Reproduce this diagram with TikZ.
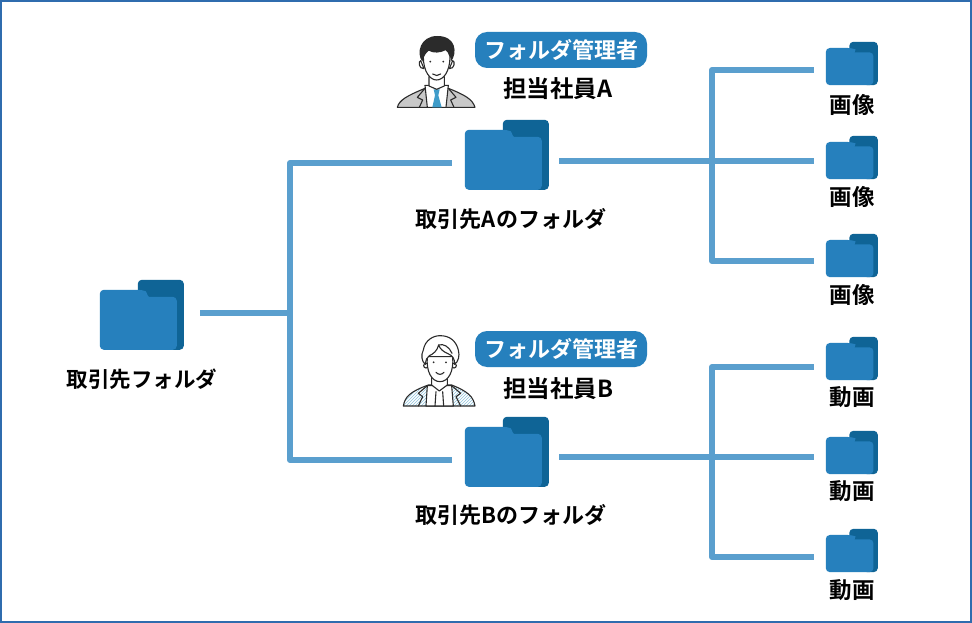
\documentclass[tikz,border=0pt]{standalone}
\usepackage{fontspec}
\setmainfont{Noto Sans CJK JP}[BoldFont={Noto Sans CJK JP Bold}]
\usetikzlibrary{patterns}
\definecolor{linkblue}{HTML}{5A9FCE}
\definecolor{folderblue}{HTML}{2680BD}
\definecolor{folderdark}{HTML}{0F6496}
\definecolor{frameblue}{HTML}{2F6CAE}
\definecolor{inkdark}{HTML}{2B2B2B}
\definecolor{suitgrey}{HTML}{C9C9C9}
\definecolor{tieblue}{HTML}{3F9CC9}
\definecolor{hatchblue}{HTML}{8FC3DC}
\tikzset{
    link/.style={draw=linkblue,line width=6pt,line join=round},
    folderbig/.style={minimum width=84pt,minimum height=70pt,inner sep=0pt},
    foldersmall/.style={minimum width=52pt,minimum height=44pt,inner sep=0pt},
    label/.style={font=\bfseries\fontsize{22}{26}\selectfont,inner sep=0pt,text=black},
    sublabel/.style={font=\bfseries\fontsize{22.5}{26}\selectfont,inner sep=0pt,text=black},
    badge/.style={fill=folderblue,rounded corners=12pt,text=white,minimum width=172pt,minimum height=36pt,inner sep=0pt,font=\bfseries\fontsize{22}{26}\selectfont},
    person/.style={draw=inkdark,line width=1.1pt,line join=round,line cap=round},
    folder/.pic={
        \fill [folderdark,rounded corners=4pt] (38,0) -- (84,0) -- (84,70) -- (60,70) -- (38,30) -- cycle;
        \fill [folderblue,rounded corners=4pt] (0,10) -- (42,10)
            to [out=-20,in=180] (53,17)
            -- (77,17) -- (77,70) -- (0,70) -- cycle;
    }
}
\begin{document}
\begin{tikzpicture}[x=1pt,y=-1pt]
                \useasboundingbox (0,0) rectangle (972,623);
                \fill [white] (0,0) rectangle (972,623);
                \draw [frameblue,line width=2pt] (1,1) rectangle (971,622);

                \node [folderbig] (rootfolder) at (142,315) {};
                \node [folderbig] (folderA) at (507,155) {};
                \node [folderbig] (folderB) at (507,452) {};
                \node [foldersmall] (imageone) at (852,64) {};
                \node [foldersmall] (imagetwo) at (852,158) {};
                \node [foldersmall] (imagethree) at (852,256) {};
                \node [foldersmall] (movieone) at (852,359) {};
                \node [foldersmall] (movietwo) at (852,453) {};
                \node [foldersmall] (moviethree) at (852,551) {};

                \pic at (rootfolder.north west) {folder};
                \pic at (folderA.north west) {folder};
                \pic at (folderB.north west) {folder};
                \foreach \name in {imageone,imagetwo,imagethree,movieone,movietwo,moviethree}
                    \pic [scale=0.619] at (\name.north west) {folder};

                \coordinate (rootjoin) at (290,313);
                \coordinate (jointop) at (290,163);
                \coordinate (joinbottom) at (290,460);
                \coordinate (joinA) at (712,161);
                \coordinate (joinAtop) at (712,70);
                \coordinate (joinAbottom) at (712,261);
                \coordinate (joinB) at (712,457);
                \coordinate (joinBtop) at (712,367);
                \coordinate (joinBbottom) at (712,557);

                \draw [link] ([xshift=16pt,yshift=2pt]rootfolder.east) -- (rootjoin);
                \draw [link] ([xshift=-13pt,yshift=-8pt]folderA.west) -- (jointop) -- (joinbottom) -- ([xshift=-13pt,yshift=-8pt]folderB.west);
                \draw [link] ([xshift=10pt,yshift=-6pt]folderA.east) -- (joinA);
                \draw [link] ([xshift=10pt,yshift=-5pt]folderB.east) -- (joinB);
                \draw [link] ([xshift=-12pt,yshift=-6pt]imageone.west) -- (joinAtop) -- (joinAbottom) -- ([xshift=-12pt,yshift=-5pt]imagethree.west);
                \draw [link] (joinA) -- ([xshift=-12pt,yshift=-3pt]imagetwo.west);
                \draw [link] ([xshift=-12pt,yshift=-8pt]movieone.west) -- (joinBtop) -- (joinBbottom) -- ([xshift=-12pt,yshift=-6pt]moviethree.west);
                \draw [link] (joinB) -- ([xshift=-12pt,yshift=-4pt]movietwo.west);

                \node [label,font=\bfseries\fontsize{21.5}{26}\selectfont] (rootlabel) at (142,379) {取引先フォルダ};
                \node [label] (labelA) at (511,219) {取引先Aのフォルダ};
                \node [label] (labelB) at (511,515) {取引先Bのフォルダ};
                \node [badge] (badgeA) at (561,50) {フォルダ管理者};
                \node [badge] (badgeB) at (561,349) {フォルダ管理者};
                \node [label,font=\bfseries\fontsize{23.5}{26}\selectfont] (staffA) at (558,89) {担当社員A};
                \node [label,font=\bfseries\fontsize{23.5}{26}\selectfont] (staffB) at (558,389) {担当社員B};
                \node [sublabel] (imagetextone) at (852,105) {画像};
                \node [sublabel] (imagetexttwo) at (852,197) {画像};
                \node [sublabel] (imagetextthree) at (852,295) {画像};
                \node [sublabel] (movietextone) at (852,397) {動画};
                \node [sublabel] (movietexttwo) at (852,491) {動画};
                \node [sublabel] (movietextthree) at (852,590) {動画};

                \begin{scope}[shift={(380,20)},x=0.3333pt,y=-0.3333pt]
                    \path [person,fill=suitgrey] (52,262)
                        .. controls (58,240) and (80,228) .. (135,205)
                        -- (205,205)
                        .. controls (255,225) and (278,238) .. (285,262)
                        -- cycle;
                    \path [person,fill=white] (135,196) -- (205,196) -- (198,262) -- (142,262) -- cycle;
                    \fill [tieblue] (161,208) -- (179,208) -- (175,226) -- (185,262) -- (157,262) -- (165,226) -- cycle;
                    \draw [person] (135,205) -- (112,232) -- (128,240) -- (118,262);
                    \draw [person] (205,205) -- (228,232) -- (212,240) -- (222,262);
                    \path [person,fill=white] (147,170) -- (147,198) -- (170,208) -- (193,198) -- (193,170) -- cycle;
                    \path [person,fill=white] (122,122) .. controls (114,122) and (116,148) .. (132,146) -- cycle;
                    \path [person,fill=white] (218,122) .. controls (226,122) and (224,148) .. (208,146) -- cycle;
                    \path [person,fill=white] (130,110)
                        .. controls (130,155) and (150,180) .. (170,180)
                        .. controls (190,180) and (210,155) .. (210,110)
                        .. controls (205,70) and (135,70) .. (130,110)
                        -- cycle;
                    \fill [inkdark] (127,125)
                        .. controls (108,100) and (120,48) .. (172,48)
                        .. controls (230,48) and (232,100) .. (213,125)
                        .. controls (212,110) and (208,100) .. (198,90)
                        .. controls (180,100) and (160,100) .. (146,92)
                        .. controls (136,100) and (130,112) .. (127,125)
                        -- cycle;
                    \fill [inkdark] (151,125) circle (3);
                    \fill [inkdark] (190,125) circle (3);
                    \draw [person] (158,162) .. controls (165,168) and (176,168) .. (182,162);
                \end{scope}

                \begin{scope}[shift={(390,325)},x=0.3333pt,y=-0.3333pt]
                    \path [person,pattern=north east lines,pattern color=hatchblue] (40,243)
                        .. controls (45,215) and (60,200) .. (115,180)
                        -- (185,180)
                        .. controls (235,200) and (250,215) .. (255,243)
                        -- cycle;
                    \path [person,fill=white] (112,182) -- (185,182) -- (190,243) -- (108,243) -- cycle;
                    \draw [person] (112,182) -- (85,205) -- (98,215) -- (85,243);
                    \draw [person] (185,182) -- (212,205) -- (198,215) -- (212,243);
                    \draw [person] (138,200) -- (135,243);
                    \draw [person] (158,200) -- (161,243);
                    \path [person,fill=white] (125,150) -- (125,180) -- (148,198) -- (172,180) -- (172,150) -- cycle;
                    \path [person,fill=white] (108,122) circle (7);
                    \path [person,fill=white] (192,122) circle (7);
                    \path [person,fill=white] (112,95)
                        .. controls (108,140) and (125,170) .. (150,170)
                        .. controls (175,170) and (192,140) .. (188,95)
                        -- cycle;
                    \path [person,fill=white] (106,118)
                        .. controls (95,110) and (92,90) .. (100,75)
                        .. controls (105,45) and (130,32) .. (150,32)
                        .. controls (180,32) and (198,48) .. (205,75)
                        .. controls (210,92) and (205,110) .. (194,118)
                        .. controls (194,100) and (188,92) .. (172,85)
                        .. controls (160,80) and (150,72) .. (146,60)
                        .. controls (142,78) and (128,88) .. (118,92)
                        .. controls (110,96) and (108,105) .. (106,118)
                        -- cycle;
                    \draw [person] (146,60) .. controls (160,55) and (178,65) .. (186,85);
                    \fill [inkdark] (131,112) circle (3);
                    \fill [inkdark] (168,112) circle (3);
                    \draw [person] (138,142) .. controls (145,150) and (155,150) .. (162,142);
                \end{scope}
\end{tikzpicture}
\end{document}
